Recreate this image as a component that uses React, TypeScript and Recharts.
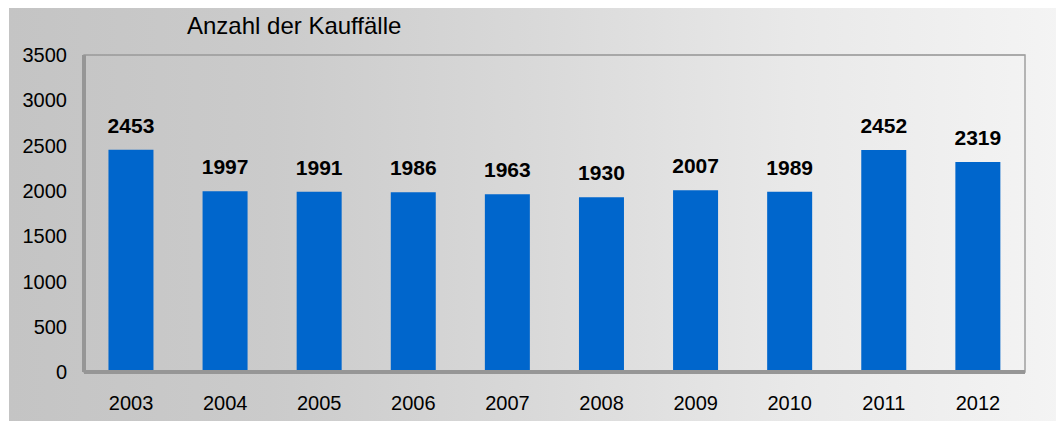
import { BarChart, Bar, XAxis, YAxis, CartesianGrid, LabelList, ReferenceArea } from "recharts";

const YEARS = ["2003", "2004", "2005", "2006", "2007", "2008", "2009", "2010", "2011", "2012"];
const PURCHASES = [2453, 1997, 1991, 1986, 1963, 1930, 2007, 1989, 2452, 2319];
const Y_TICKS = [0, 500, 1000, 1500, 2000, 2500, 3000, 3500];

const data = YEARS.map((year, i) => ({ year, value: PURCHASES[i] }));

const FONT = "'Liberation Sans', Arial, sans-serif";

export default function App() {
  return (
    <div
      style={{
        position: "relative",
        marginLeft: 1,
        marginTop: -1,
        width: 1052,
        height: 414,
        background: "linear-gradient(to right, #c4c4c4 0%, #cbcbcb 25%, #d9d9d9 50%, #e9e9e9 75%, #f4f4f4 100%)",
        fontFamily: FONT,
      }}
    >
      <div style={{ position: "absolute", left: 178, top: 5, fontSize: 24, color: "#000", whiteSpace: "nowrap" }}>
        Anzahl der Kauffälle
      </div>
      <BarChart
        width={1052}
        height={414}
        data={data}
        margin={{ top: 48, right: 36, bottom: 0, left: 0 }}
        barCategoryGap="26%"
      >
        <CartesianGrid vertical={false} stroke="#a0a0a0" strokeWidth={1} />
        <ReferenceArea yAxisId="left" y1={0} y2={3500} fill="none" stroke="#a0a0a0" strokeWidth={1.5} ifOverflow="visible" />
        <XAxis
          dataKey="year"
          tickLine={false}
          axisLine={{ stroke: "#969696", strokeWidth: 4 }}
          tick={{ fill: "#000", fontSize: 20, fontFamily: FONT }}
          tickSize={0}
          tickMargin={24}
          height={49}
        />
        <YAxis
          yAxisId="left"
          domain={[0, 3500]}
          ticks={Y_TICKS}
          tickLine={false}
          axisLine={{ stroke: "#969696", strokeWidth: 4 }}
          tick={{ fill: "#000", fontSize: 20, fontFamily: FONT }}
          tickSize={0}
          tickMargin={17}
          width={75}
          interval={0}
        />
        <Bar yAxisId="left" dataKey="value" fill="#0066cc" isAnimationActive={false}>
          <LabelList
            dataKey="value"
            position="top"
            offset={17}
            style={{ fill: "#000", fontSize: 21, fontWeight: "bold", fontFamily: FONT }}
          />
        </Bar>
      </BarChart>
    </div>
  );
}
